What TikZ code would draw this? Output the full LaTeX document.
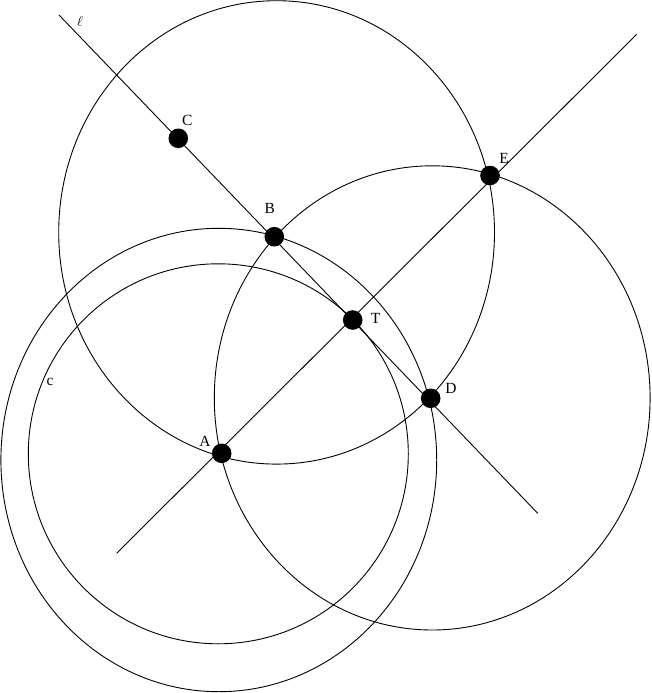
\documentclass[tikz,border=0pt]{standalone}
\usepackage{fontspec}
\setmainfont{Liberation Serif}
\begin{document}
\begin{tikzpicture}[x=1pt,y=-1pt,
  curve/.style={draw=black,line width=0.9pt},
  dot/.style={circle,fill=black,inner sep=0pt,minimum size=19.6pt},
  lbl/.style={inner sep=0pt,font=\fontsize{15.5}{18}\selectfont}]
\useasboundingbox (0,0) rectangle (651,693);
% circles
\draw[curve] (276.6,232.4) ellipse [x radius=217.9pt, y radius=231.7pt];
\draw[curve] (432.2,397.9) ellipse [x radius=217.9pt, y radius=232.1pt];
\draw[curve] (218.8,460.0) ellipse [x radius=217.9pt, y radius=231.7pt];
\draw[curve] (218.3,453.8) circle [radius=190pt];
% lines
\coordinate (l1) at (59,15);
\coordinate (l2) at (537.7,513.3);
\coordinate (m1) at (116.7,553.3);
\coordinate (m2) at (636.7,34.3);
\draw[curve] (l1) -- (l2);
\draw[curve] (m1) -- (m2);
% points
\node[dot] (C) at (178.3,138.3) {};
\node[dot] (B) at (274.3,236.7) {};
\node[dot] (T) at (352.7,320.0) {};
\node[dot] (D) at (430.7,398.3) {};
\node[dot] (E) at (490.0,175.5) {};
\node[dot] (A) at (221.7,453.3) {};
% labels
\node[lbl] (lC) at (187.3,120.7) {C};
\node[lbl] (lB) at (269.7,208.7) {B};
\node[lbl] (lT) at (375.7,318.3) {T};
\node[lbl] (lD) at (451.0,388.3) {D};
\node[lbl] (lE) at (504.0,158.0) {E};
\node[lbl] (lA) at (205.0,441.0) {A};
\node[lbl] (lc) at (50.0,381.7) {c};
\node[lbl] (lell) at (80.0,22.0) {$\ell$};
\end{tikzpicture}
\end{document}
